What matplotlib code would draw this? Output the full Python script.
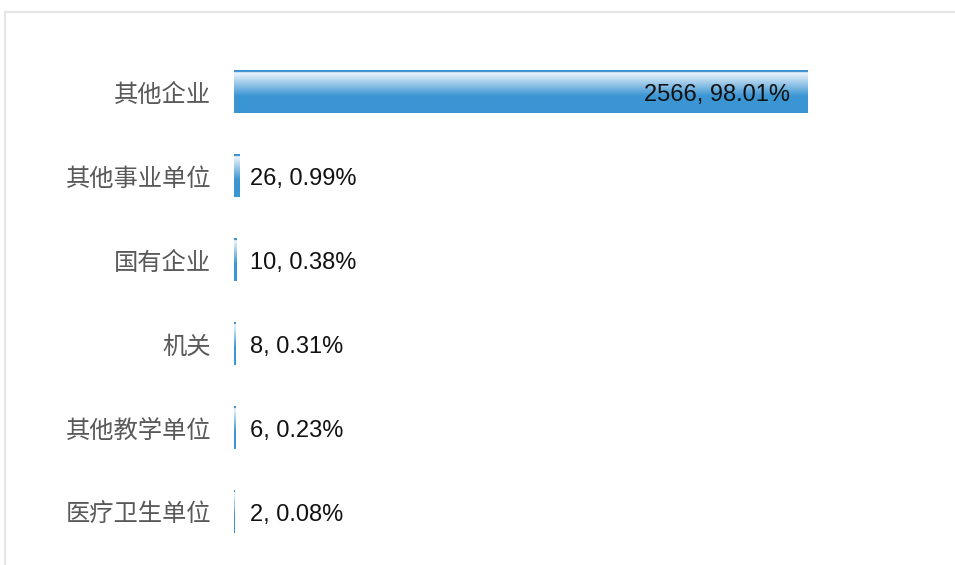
import numpy as np
import matplotlib.pyplot as plt
from matplotlib.lines import Line2D

plt.rcParams['font.family'] = ['Noto Sans CJK SC', 'DejaVu Sans']

categories = ['其他企业', '其他事业单位', '国有企业', '机关', '其他教学单位', '医疗卫生单位']
counts = [2566, 26, 10, 8, 6, 2]
percents = ['98.01%', '0.99%', '0.38%', '0.31%', '0.23%', '0.08%']

W, H = 955, 565
fig = plt.figure(figsize=(W / 100, H / 100), dpi=100)

# outer panel border (light gray), top and left only
fig.add_artist(Line2D([4.5 / W, 1], [1 - 11.5 / H, 1 - 11.5 / H],
                      transform=fig.transFigure, color='#e6e6e6', lw=1.5))
fig.add_artist(Line2D([4.5 / W, 4.5 / W], [0, 1 - 11.5 / H],
                      transform=fig.transFigure, color='#e6e6e6', lw=1.5))

ax = fig.add_axes([234 / W, 1 - 554 / H, (807 - 234) / W, 504 / H])
ax.axis('off')
px = counts[0] / 573  # data units per pixel

# vertical gradient for the bars
base = np.array([59, 149, 211]) / 255
light = np.array([240, 246, 252]) / 255
n = 100
grad = np.zeros((n, 1, 3))
for k in range(n):
    t = k / (n - 1)
    if t < 0.05:
        c = np.array([60, 145, 208]) / 255
    elif t < 0.6:
        s = (t - 0.05) / 0.55
        c = light * (1 - s) + base * s
    else:
        c = base
    grad[k, 0] = c

h = 0.51
for i, (v, p) in enumerate(zip(counts, percents)):
    ax.imshow(grad, extent=[0, v, i + h / 2, i - h / 2], aspect='auto',
              interpolation='bilinear', zorder=2)
    label = f'{v}, {p}'
    if i == 0:
        ax.text(v - 17 * px, i + 0.03, label, ha='right', va='center',
                fontsize=17, color='#111111', family='Liberation Sans', zorder=3)
    else:
        ax.text(max(v + 10 * px, 16 * px), i + 0.03, label, ha='left', va='center',
                fontsize=17, color='#111111', family='Liberation Sans', zorder=3)
    ax.text(-23 * px, i + 0.035, categories[i], ha='right', va='center',
            fontsize=17.5, color='#595959', clip_on=False)

ax.set_xlim(0, counts[0])
ax.set_ylim(5.5, -0.5)

fig.savefig('out.png', dpi=100)
